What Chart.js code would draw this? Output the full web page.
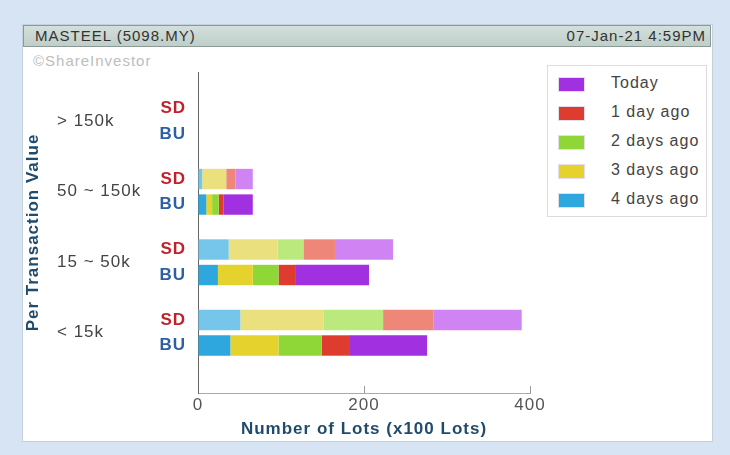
<!DOCTYPE html>
<html>
<head>
<meta charset="utf-8">
<script src="https://cdn.jsdelivr.net/npm/chart.js@4"></script>
<style>
  html, body { margin: 0; padding: 0; }
  body { width: 730px; height: 455px; background: #d6e4f4; position: relative; overflow: hidden;
         font-family: "Liberation Sans", Arial, sans-serif; }
  #panel { position: absolute; left: 22px; top: 24px; width: 689px; height: 416px; background: #fff;
           border: 1px solid #c4d0dc; }
  #header { position: absolute; left: 23px; top: 25px; width: 686px; height: 20px;
            background: linear-gradient(#d3dfda, #bfcec8); border: 1px solid #8b9a94;
            color: #333; font-size: 15px; letter-spacing: 1px; line-height: 20px; }
  #header .l { position: absolute; left: 11px; }
  #header .r { position: absolute; right: 4px; }
  #credit { position: absolute; left: 33px; top: 52px; font-size: 15px; letter-spacing: 1px; color: #bdbdbd; }
  #chart { position: absolute; left: 0; top: 0; }
  #legend { position: absolute; left: 547px; top: 65px; width: 158px; height: 150px; background: #fff;
            border: 1px solid #dcdcdc; z-index: 2; }
  #legend .row { position: absolute; left: 10px; height: 16px; }
  #legend .sw { position: absolute; left: 0; top: 1px; width: 25px; height: 13px; border: 1px solid #e6dcea; }
  #legend .tx { position: absolute; left: 53px; top: -2px; font-size: 16px; letter-spacing: 1px; color: #444; white-space: nowrap; }
</style>
</head>
<body>
<div id="panel"></div>
<div id="header"><span class="l">MASTEEL (5098.MY)</span><span class="r">07-Jan-21 4:59PM</span></div>
<div id="credit">©ShareInvestor</div>
<canvas id="chart" width="730" height="455"></canvas>
<div id="legend"></div>
<script>
// Per transaction value buckets, top to bottom
const categories = ["> 150k", "50 ~ 150k", "15 ~ 50k", "< 15k"];
const seriesNames = ["4 days ago", "3 days ago", "2 days ago", "1 day ago", "Today"];

// SD (sell down) lots, x100
const sd4DaysAgo = [0, 5, 37, 51];
const sd3DaysAgo = [0, 29, 59, 100];
const sd2DaysAgo = [0, 0, 31, 72];
const sd1DayAgo = [0, 11, 38, 61];
const sdToday = [0, 21, 70, 106];

// BU (buy up) lots, x100
const bu4DaysAgo = [0, 10, 24, 39];
const bu3DaysAgo = [0, 7, 42, 58];
const bu2DaysAgo = [0, 8, 31, 52];
const bu1DayAgo = [0, 6, 20, 33];
const buToday = [0, 35, 89, 94];

const xTicks = [0, 200, 400];

const solidColors = ["#2ea6de", "#e6d22c", "#8fd736", "#df3c30", "#a030e0"];
const paleColors = ["#76c6ec", "#ebe07e", "#bce97e", "#ef8779", "#d083f2"];

const sdSeries = [sd4DaysAgo, sd3DaysAgo, sd2DaysAgo, sd1DayAgo, sdToday];
const buSeries = [bu4DaysAgo, bu3DaysAgo, bu2DaysAgo, bu1DayAgo, buToday];

const font = '"Liberation Sans", Arial, sans-serif';
Chart.defaults.font.family = font;

function toPoints(values) {
  return values.map((v, i) => ({ x: v, y: i }));
}

const datasets = [];
sdSeries.forEach((vals, i) => {
  datasets.push({ label: seriesNames[i], stack: "SD", data: toPoints(vals), backgroundColor: paleColors[i] });
});
buSeries.forEach((vals, i) => {
  datasets.push({ label: seriesNames[i], stack: "BU", data: toPoints(vals), backgroundColor: solidColors[i] });
});

// canvas letter spacing so the text widths come out like the original
const spacing = {
  id: "spacing",
  beforeUpdate(chart) { chart.ctx.letterSpacing = "1px"; },
  beforeDraw(chart) { chart.ctx.letterSpacing = "1px"; }
};

// bucket names and SD / BU tags next to each bar pair
const sideLabels = {
  id: "sideLabels",
  afterDraw(chart) {
    const ctx = chart.ctx;
    const yScale = chart.scales.y;
    const left = chart.chartArea.left;
    ctx.save();
    ctx.textBaseline = "middle";
    ctx.textAlign = "left";
    ctx.font = "17px " + font;
    ctx.fillStyle = "#444";
    categories.forEach((c, i) => {
      ctx.fillText(c, yScale.left + 35, yScale.getPixelForValue(i));
    });
    const sdMeta = chart.getDatasetMeta(0);
    const buMeta = chart.getDatasetMeta(5);
    ctx.textAlign = "right";
    ctx.font = "bold 17px " + font;
    categories.forEach((c, i) => {
      ctx.fillStyle = "#c0222c";
      ctx.fillText("SD", left - 12, sdMeta.data[i].y);
      ctx.fillStyle = "#2d5fa5";
      ctx.fillText("BU", left - 12, buMeta.data[i].y);
    });
    ctx.restore();
  }
};

new Chart(document.getElementById("chart"), {
  type: "bar",
  data: { datasets: datasets },
  plugins: [spacing, sideLabels],
  options: {
    indexAxis: "y",
    responsive: false,
    animation: false,
    layout: { padding: { left: 22, right: 200, top: 72, bottom: 14 } },
    datasets: { bar: { categoryPercentage: 0.724, barPercentage: 0.8, borderWidth: 0 } },
    plugins: { legend: { display: false }, tooltip: { enabled: false } },
    scales: {
      x: {
        type: "linear",
        stacked: true,
        min: 0,
        max: 400,
        afterBuildTicks: (s) => { s.ticks = xTicks.map(v => ({ value: v })); },
        afterFit: (s) => { s.height = 48; },
        ticks: { color: "#555", font: { size: 17 }, padding: 9 },
        grid: { drawOnChartArea: false, tickLength: -7, color: "#9a9a9a" },
        border: { color: "#aaa", width: 1 },
        title: {
          display: true,
          text: "Number of Lots (x100 Lots)",
          color: "#1f4c6c",
          font: { size: 17, weight: "bold" },
          padding: { top: 0, bottom: 1 }
        }
      },
      y: {
        type: "linear",
        offset: false,
        reverse: true,
        min: -0.7,
        max: 3.855,
        afterBuildTicks: (s) => { s.ticks = categories.map((c, i) => ({ value: i })); },
        afterFit: (s) => { s.width = 176; },
        ticks: { display: false },
        grid: { display: false },
        border: { color: "#666", width: 1 },
        title: {
          display: true,
          text: "Per Transaction Value",
          color: "#1f4c6c",
          font: { size: 17, weight: "bold" },
          padding: { top: 1, bottom: 0 }
        }
      }
    }
  }
});

// legend: newest first, solid colours
const legend = document.getElementById("legend");
for (let i = seriesNames.length - 1, row = 0; i >= 0; i--, row++) {
  const r = document.createElement("div");
  r.className = "row";
  r.style.top = (10 + row * 29) + "px";
  r.innerHTML = '<div class="sw" style="background:' + solidColors[i] + '"></div><div class="tx">' + seriesNames[i] + "</div>";
  legend.appendChild(r);
}
</script>
</body>
</html>
